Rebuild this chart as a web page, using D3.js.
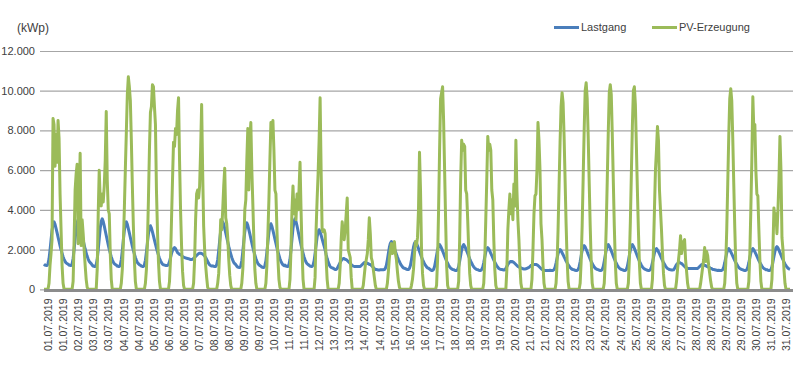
<!DOCTYPE html>
<html>
<head>
<meta charset="utf-8">
<script src="https://d3js.org/d3.v7.min.js"></script>
<style>
  body { margin: 0; background: #fff; }
  svg text { font-family: "Liberation Sans", Arial, sans-serif; fill: #404040; }
</style>
</head>
<body>
<div id="wrapper"></div>
<script>

// y axis ticks (kWp)
const yTicks = [0, 2000, 4000, 6000, 8000, 10000, 12000]

// category labels as shown under the axis (every 15th hour)
const tickLabels = [
  "01.07.2019","01.07.2019","02.07.2019","03.07.2019","03.07.2019","04.07.2019","04.07.2019",
  "05.07.2019","06.07.2019","06.07.2019","07.07.2019","08.07.2019","08.07.2019","09.07.2019",
  "09.07.2019","10.07.2019","11.07.2019","11.07.2019","12.07.2019","13.07.2019","13.07.2019",
  "14.07.2019","14.07.2019","15.07.2019","16.07.2019","16.07.2019","17.07.2019","18.07.2019",
  "18.07.2019","19.07.2019","19.07.2019","20.07.2019","21.07.2019","21.07.2019","22.07.2019",
  "23.07.2019","23.07.2019","24.07.2019","24.07.2019","25.07.2019","26.07.2019","26.07.2019",
  "27.07.2019","28.07.2019","28.07.2019","29.07.2019","29.07.2019","30.07.2019","31.07.2019",
  "31.07.2019"
]

// hourly load, one row per day (01.07 - 31.07)
const lastgang = [
  1270,1220,1200,1200,1290,1530,1970,2480,2960,3270,3400,3270,3070,2850,2630,2410,2190,1990,1820,1640,1510,1400,1330,1290,
  1270,1220,1200,1200,1290,1550,2010,2530,3040,3360,3500,3360,3160,2930,2700,2470,2240,2030,1840,1660,1520,1410,1340,1290,
  1220,1170,1150,1150,1250,1510,1990,2540,3070,3410,3550,3410,3190,2950,2710,2470,2230,2010,1820,1630,1490,1370,1290,1250,
  1220,1170,1150,1150,1240,1490,1940,2460,2950,3270,3400,3270,3060,2840,2610,2390,2160,1960,1780,1600,1470,1350,1290,1240,
  1210,1170,1150,1150,1230,1460,1870,2340,2790,3080,3200,3080,2890,2690,2480,2280,2070,1890,1720,1560,1440,1340,1270,1230,
  1220,1200,1200,1200,1250,1400,1600,1800,1950,2050,2100,2050,1950,1850,1800,1750,1750,1700,1650,1620,1600,1580,1560,1550,
  1540,1520,1500,1500,1520,1560,1600,1650,1700,1750,1800,1820,1820,1800,1780,1740,1680,1600,1500,1400,1300,1230,1190,1170,
  1180,1160,1150,1150,1240,1490,1940,2460,2950,3270,3400,3270,3060,2840,2610,2390,2160,1960,1780,1600,1470,1350,1290,1240,
  1170,1120,1100,1100,1190,1440,1890,2410,2900,3220,3350,3220,3010,2790,2560,2340,2110,1910,1730,1550,1420,1300,1240,1190,
  1170,1120,1100,1100,1190,1430,1870,2380,2860,3170,3300,3170,2970,2750,2530,2310,2090,1890,1720,1540,1410,1300,1230,1190,
  1220,1170,1150,1150,1250,1510,1990,2540,3070,3410,3550,3410,3190,2950,2710,2470,2230,2010,1820,1630,1490,1370,1290,1250,
  1210,1170,1150,1150,1220,1430,1800,2220,2630,2890,3000,2890,2720,2540,2350,2170,1980,1750,1550,1380,1250,1150,1100,1080,
  1060,1030,1000,1000,1050,1150,1250,1350,1450,1500,1550,1550,1500,1500,1450,1400,1350,1300,1250,1200,1170,1150,1150,1150,
  1150,1150,1150,1150,1200,1250,1300,1350,1350,1350,1300,1300,1250,1250,1200,1150,1100,1050,1000,1000,980,970,970,980,
  990,980,980,990,1060,1210,1490,1810,2120,2320,2400,2320,2190,2050,1910,1770,1630,1500,1390,1280,1200,1130,1080,1060,
  1040,1010,1000,1000,1060,1210,1490,1810,2120,2320,2400,2320,2190,2050,1910,1770,1630,1500,1390,1280,1200,1130,1080,1060,
  1020,980,950,950,1000,1150,1410,1700,1990,2170,2250,2170,2060,1930,1800,1670,1540,1420,1310,1210,1130,1070,1030,1000,
  990,960,950,950,1000,1150,1410,1700,1990,2170,2250,2170,2060,1930,1800,1670,1540,1420,1310,1210,1130,1070,1030,1000,
  990,960,950,950,1000,1120,1350,1620,1870,2030,2100,2030,1930,1810,1700,1580,1470,1360,1270,1180,1110,1050,1020,1000,
  1000,980,970,980,1050,1150,1250,1320,1380,1400,1400,1380,1350,1300,1250,1200,1150,1120,1100,1080,1050,1030,1020,1020,
  1030,1050,1080,1100,1150,1200,1220,1250,1250,1250,1250,1230,1200,1150,1100,1050,1000,980,960,950,950,950,950,950,
  960,950,950,950,990,1110,1320,1560,1790,1940,2000,1940,1840,1740,1630,1530,1420,1330,1240,1160,1100,1050,1010,990,
  980,960,950,950,1000,1140,1390,1680,1950,2130,2200,2130,2010,1890,1760,1640,1510,1400,1300,1200,1130,1060,1030,1000,
  990,960,950,950,1000,1150,1410,1700,1990,2170,2250,2170,2060,1930,1800,1670,1540,1420,1310,1210,1130,1070,1030,1000,
  990,960,950,950,1000,1150,1410,1700,1990,2170,2250,2170,2060,1930,1800,1670,1540,1420,1310,1210,1130,1070,1030,1000,
  980,960,950,950,990,1120,1340,1590,1830,1980,2050,1980,1890,1780,1670,1560,1450,1350,1260,1170,1100,1050,1020,990,
  980,970,970,980,1050,1150,1250,1300,1350,1350,1320,1300,1250,1200,1150,1100,1080,1050,1050,1050,1050,1050,1050,1050,
  1050,1050,1050,1050,1100,1150,1200,1250,1250,1250,1200,1200,1150,1150,1100,1100,1050,1050,1000,1000,980,970,960,950,
  960,950,950,950,990,1120,1340,1590,1830,1980,2050,1980,1890,1780,1670,1560,1450,1350,1260,1170,1100,1050,1020,990,
  980,960,950,950,990,1120,1340,1590,1830,1980,2050,1980,1890,1780,1670,1560,1450,1350,1260,1170,1100,1050,1020,990,
  990,960,950,950,1000,1130,1370,1650,1910,2080,2150,2080,1970,1850,1730,1610,1490,1380,1280,1190,1120,1060,1030,1010
]

// hourly PV output, one row per day (01.07 - 31.07)
const pvErzeugung = [
  0,0,0,0,0,300,1200,1800,2500,8600,8300,6200,7800,6400,8500,7600,4800,3000,1200,300,0,0,0,0,
  0,0,0,0,0,400,2500,5000,5800,6300,2300,4500,6850,2200,3500,2800,2000,1200,500,100,0,0,0,0,
  0,0,0,0,0,1000,3800,6000,4500,4200,4800,4400,5200,6500,8950,5500,4000,3800,1800,500,0,0,0,0,
  0,0,0,0,0,300,1000,2300,4000,6000,7900,9800,10700,10200,9500,7500,5200,3200,1500,400,0,0,0,0,
  0,0,0,0,0,300,1000,2300,4500,7000,8900,9200,10300,10200,9200,8300,5000,3000,1400,400,0,0,0,0,
  0,0,0,0,0,400,1500,3500,5500,7400,7200,8100,7800,9000,9650,6500,4000,2200,900,200,0,0,0,0,
  0,0,0,0,0,300,1500,3500,4800,5000,4600,5200,7000,9300,6000,3200,2000,1200,600,100,0,0,0,0,
  0,0,0,0,0,300,800,2000,3500,3000,4000,5200,6100,3600,3300,2600,1500,700,200,0,0,0,0,0,
  0,0,0,0,0,300,1000,2200,4000,4500,6500,8100,5000,7500,8400,6000,4300,2500,1000,300,0,0,0,0,
  0,0,0,0,0,300,1200,2800,4500,6500,8400,8200,8500,7000,5000,4800,3000,1500,500,100,0,0,0,0,
  0,0,0,0,0,500,2000,4000,5200,3800,4500,3500,4800,4000,5000,6400,4000,2000,500,0,0,0,0,0,
  0,0,0,0,0,0,600,3000,4500,5800,7500,9650,6000,3000,2900,3000,2800,1500,500,0,0,0,0,0,
  0,0,0,0,0,0,300,1200,2500,3400,2800,2500,3000,3800,4600,2000,1800,1600,600,0,0,0,0,0,
  0,0,0,0,0,0,200,700,1200,1500,1800,2500,3600,2800,1600,1400,1000,600,200,0,0,0,0,0,
  0,0,0,0,0,0,300,900,1600,2000,2300,1800,2200,2400,1800,1500,900,400,100,0,0,0,0,0,
  0,0,0,0,0,0,200,500,1000,1800,2400,2200,2600,4000,6900,5000,2000,800,200,0,0,0,0,0,
  0,0,0,0,0,0,0,200,1500,4000,7000,9600,9900,10200,8500,6000,3500,1200,200,0,0,0,0,0,
  0,0,0,0,0,400,2500,5500,7500,7000,7300,7200,5000,4800,3500,2000,800,200,0,0,0,0,0,0,
  0,0,0,0,0,0,300,1500,3500,5500,7700,7000,7300,7000,5000,4500,2500,1000,200,0,0,0,0,0,
  0,0,0,0,0,1000,3000,4000,4800,3800,4500,3500,5300,4200,7500,5000,3500,2500,1200,300,0,0,0,0,
  0,0,0,0,0,0,500,2000,3800,4700,4800,6000,8400,7500,6000,3300,2500,1200,300,0,0,0,0,0,
  0,0,0,0,0,0,300,1300,3000,5200,7400,9200,9900,9400,7700,5500,3300,1500,400,0,0,0,0,0,
  0,0,0,0,0,0,300,1400,3200,5600,8000,10000,10400,9600,7700,5400,3200,1400,300,0,0,0,0,0,
  0,0,0,0,0,0,300,1400,3200,5500,7900,9900,10300,9800,7800,5500,3200,1400,300,0,0,0,0,0,
  0,0,0,0,0,0,300,1500,3400,5800,8200,10000,10200,9300,7200,5000,3000,1300,300,0,0,0,0,0,
  0,0,0,0,0,0,500,2000,4000,6000,7000,8200,7500,5000,4000,3000,1800,800,200,0,0,0,0,0,
  0,0,0,0,0,0,400,1000,1500,2000,2700,1800,2200,2400,2500,1500,900,300,0,0,0,0,0,0,
  0,0,0,0,0,0,300,700,1100,1500,2100,1400,1900,1700,1200,800,400,100,0,0,0,0,0,0,
  0,0,0,0,0,0,300,1300,3000,5300,7700,9600,10100,9500,7600,5300,3100,1300,300,0,0,0,0,0,
  0,0,0,0,0,0,400,1800,4000,6500,9700,8000,8300,6000,4800,4700,3000,1500,400,0,0,0,0,0,
  0,0,0,0,0,500,2000,4100,3500,3800,2800,4000,5500,7700,6000,2600,2000,1000,300,0,0,0,0,0
]

const seriesNames = ["Lastgang", "PV-Erzeugung"]
const colors = ["#4a7ebb", "#9bbb59"]

const w = 800, h = 372
const plotLeft = 44, plotRight = 791, plotTop = 51, plotBottom = 289.3

const de = d3.formatLocale({decimal: ",", thousands: ".", grouping: [3], currency: ["", " €"]})
const fmt = de.format(",")

const svg = d3.select("#wrapper").append("svg")
  .attr("width", w)
  .attr("height", h)

const x = d3.scaleLinear().domain([0, lastgang.length]).range([plotLeft, plotRight])
const y = d3.scaleLinear().domain([0, 12000]).range([plotBottom, plotTop])

// gridlines + y labels
const yAxis = svg.append("g")
  .attr("transform", `translate(${plotLeft},0)`)
  .call(d3.axisLeft(y).tickValues(yTicks).tickFormat(fmt).tickSize(-(plotRight + 2 - plotLeft)).tickPadding(9))
yAxis.select(".domain").remove()
yAxis.selectAll(".tick line")
  .attr("x1", -4)
  .attr("stroke", "#a6a6a6")
  .attr("stroke-width", 1.2)
yAxis.selectAll(".tick text")
  .style("font-size", "11px")
  .attr("fill", "#404040")

svg.append("text")
  .attr("x", 17)
  .attr("y", 32)
  .style("font-size", "12px")
  .text("(kWp)")

// the two series
const line = d3.line()
  .x((d, i) => x(i))
  .y(d => y(d))

;[lastgang, pvErzeugung].forEach((s, k) => {
  svg.append("path")
    .datum(s)
    .attr("d", line)
    .attr("fill", "none")
    .attr("stroke", colors[k])
    .attr("stroke-width", 3)
    .attr("stroke-linejoin", "round")
})

// category axis on top of the lines
const tickPos = tickLabels.map((d, i) => 4 + i * 15)
const xAxis = svg.append("g")
  .attr("transform", `translate(0,${plotBottom + 1.2})`)
  .call(d3.axisBottom(x).tickValues(tickPos).tickFormat((d, i) => tickLabels[i]).tickSize(0).tickSizeOuter(0))
xAxis.select(".domain")
  .attr("stroke", "#8c8c8c")
  .attr("stroke-width", 3)
  .attr("d", `M${plotLeft},0H${plotRight + 2}`)
xAxis.selectAll(".tick text")
  .style("font-size", "10.5px")
  .attr("fill", "#404040")
  .attr("text-anchor", "end")
  .attr("transform", "rotate(-90)")
  .attr("x", -8)
  .attr("y", 0)
  .attr("dy", "0.35em")

// legend
const legend = svg.append("g")
seriesNames.forEach((name, k) => {
  const lx = k == 0 ? 554 : 652
  legend.append("line")
    .attr("x1", lx).attr("x2", lx + 25)
    .attr("y1", 27.5).attr("y2", 27.5)
    .attr("stroke", colors[k])
    .attr("stroke-width", 3)
  legend.append("text")
    .attr("x", lx + 27)
    .attr("y", 27.5)
    .attr("dy", "0.35em")
    .style("font-size", "11px")
    .text(name)
})

</script>
